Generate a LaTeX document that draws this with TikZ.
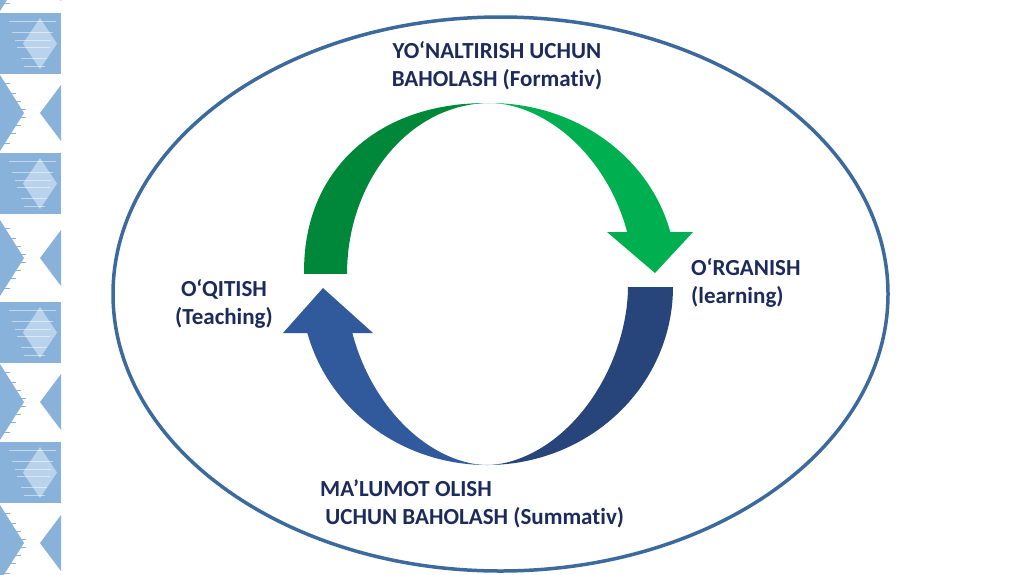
\documentclass[tikz,border=0pt]{standalone}
\usepackage{fontspec}
\setmainfont[Ligatures=NoCommon]{Carlito}
\definecolor{ikatA}{RGB}{137,178,218}
\definecolor{ikatL}{RGB}{186,211,236}
\definecolor{ellblue}{RGB}{60,106,156}
\definecolor{gdark}{RGB}{0,136,58}
\definecolor{glight}{RGB}{0,176,80}
\definecolor{bdark}{RGB}{39,69,122}
\definecolor{blight}{RGB}{48,90,155}
\definecolor{txt}{RGB}{28,43,92}
\tikzset{
  lbl/.style={text=txt, font=\fontsize{23}{28}\selectfont\bfseries, inner sep=0pt},
}
\begin{document}
\begin{tikzpicture}[x=1pt,y=-1pt]
\useasboundingbox (0,0) rectangle (1024,574);
\fill[white] (0,0) rectangle (1024,574);
% ikat strip
\foreach \y in {13,153,302,442}{
  \fill[ikatA] (0,\y) rectangle (61,{\y+61});
  \fill[ikatL] (40,{\y+5}) -- (57,{\y+30.5}) -- (40,{\y+56}) -- (23,{\y+30.5}) -- cycle;
  \foreach \d in {8,19,27,34,45,53}{
    \draw[white, opacity=0.5, line width=0.8pt] ({6+\d/3},{\y+\d}) -- ({58-\d/4},{\y+\d});
  }
}
\foreach \c in {-27,113,258,402,543}{
  \fill[ikatA] (0,{\c-38}) -- (24,\c) -- (0,{\c+38}) -- cycle;
  \fill[ikatA] (61,{\c-28}) -- (40,\c) -- (61,{\c+28}) -- cycle;
  \foreach \d in {-30,-20,-12,-4,4,12,20,30}{
    \draw[ikatA, line width=0.8pt] (0,{\c+\d}) -- ({28-0.6*abs(\d)},{\c+\d});
  }
}
% outer ellipse
\draw[line width=3.5pt, ellblue] (500.5,294) ellipse [x radius=387.5, y radius=277];
% head-base angles
\pgfmathsetmacro\tgo{asin(42/171)}
\pgfmathsetmacro\tgi{asin(pow(42/171,0.925))}
\pgfmathsetmacro\tbo{asin(46/178)}
\pgfmathsetmacro\tbi{asin(pow(46/178,0.925))}
% green arrow (upper)
\fill[gdark] plot[domain=0.01:89.99,samples=70] ({490-186*pow(cos(\x),2/2.2)},{274-171*pow(sin(\x),2/2.2)})
  -- plot[domain=89.99:0.01,samples=70] ({490-143*cos(\x)},{274-171*sin(\x)}) -- cycle;
\fill[glight] plot[domain=89.99:\tgo,samples=70] ({490+186*cos(\x)},{274-171*sin(\x)})
  -- (693,232) -- (655,273) -- (607,232)
  -- plot[domain=\tgi:89.99,samples=70] ({490+143*pow(cos(\x),2/1.85)},{274-171*pow(sin(\x),2/1.85)}) -- cycle;
% blue arrow (lower)
\fill[bdark] plot[domain=0.01:89.99,samples=70] ({487+186*cos(\x)},{287+178*sin(\x)})
  -- plot[domain=89.99:0.01,samples=70] ({487+141*pow(cos(\x),2/1.85)},{287+178*pow(sin(\x),2/1.85)}) -- cycle;
\fill[blight] plot[domain=89.99:\tbo,samples=70] ({487-186*cos(\x)},{287+178*sin(\x)})
  -- (283,333) -- (323,288) -- (373,333)
  -- plot[domain=\tbi:89.99,samples=70] ({487-141*pow(cos(\x),2/1.85)},{287+178*pow(sin(\x),2/1.85)}) -- cycle;
% labels
\node[lbl, align=center] (formativ) at (497,66) {YO‘NALTIRISH UCHUN\\BAHOLASH (Formativ)};
\node[lbl, align=center] (teach) at (224,304) {O‘QITISH\\(Teaching)};
\node[lbl, align=left, anchor=west] (learn) at (691,283) {O‘RGANISH\\(learning)};
\node[lbl, align=left, anchor=west] (summ) at (320,504) {MA’LUMOT OLISH\\\ UCHUN BAHOLASH (Summativ)};
\end{tikzpicture}
\end{document}
